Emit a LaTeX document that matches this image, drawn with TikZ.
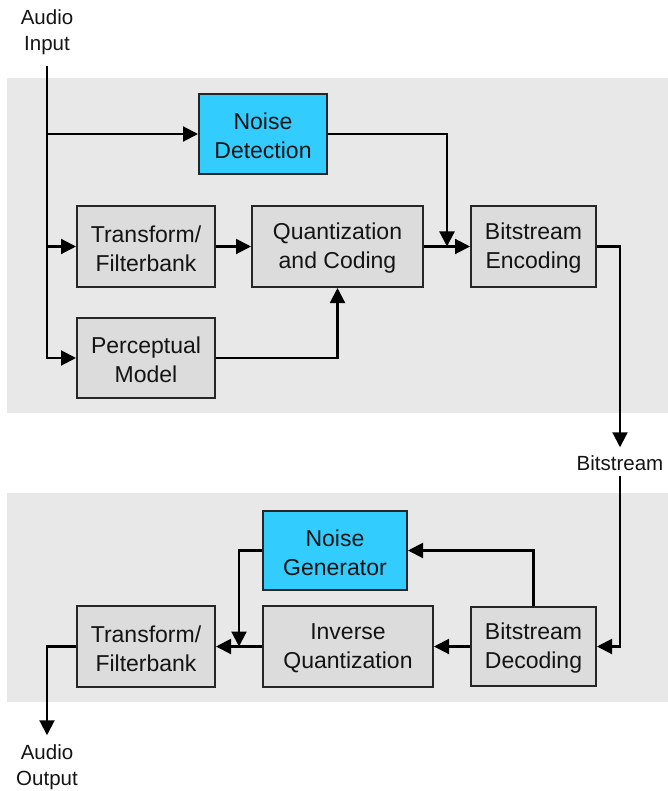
\documentclass[tikz,border=0pt]{standalone}
\usepackage{fontspec}
\setmainfont{Liberation Sans}
\usetikzlibrary{arrows.meta,calc}
\definecolor{panelgray}{HTML}{E8E8E8}
\definecolor{boxgray}{HTML}{DCDCDC}
\definecolor{noisecyan}{HTML}{33CCFF}
\definecolor{edgegray}{HTML}{262626}
\definecolor{inkgray}{HTML}{141414}
\tikzset{
  blocktext/.style={align=center, inner sep=0pt, text=inkgray,
    font=\fontsize{23}{29}\selectfont, yshift=-2pt},
  blockbox/.style={draw=edgegray, line width=2pt, fill=boxgray, rectangle,
    inner sep=0pt, label={[blocktext]center:#1}},
  noisebox/.style={blockbox=#1, fill=noisecyan},
  extlabel/.style={align=center, inner sep=1pt, text=inkgray,
    font=\fontsize{20.5}{26}\selectfont},
  wire/.style={line width=2.1pt, black},
  arr/.style={wire, -{Triangle[length=15pt,width=15pt]}},
}
\begin{document}
\begin{tikzpicture}[x=1pt,y=-1pt]
  \useasboundingbox (0,0) rectangle (668,791);
  % background panels: encoder and decoder
  \fill[panelgray] (7,78) rectangle (668,413);
  \fill[panelgray] (7,493) rectangle (668,702);

  % encoder blocks
  \node[noisebox={Noise\\Detection}, minimum width=128pt, minimum height=80pt] (nd) at (263,134) {};
  \node[blockbox={Transform/\\Filterbank}, minimum width=138pt, minimum height=81pt] (tf) at (146,246.5) {};
  \node[blockbox={Perceptual\\Model}, minimum width=138pt, minimum height=80pt] (pm) at (146,358) {};
  \node[blockbox={Quantization\\and Coding}, minimum width=171pt, minimum height=81pt] (qc) at (337.5,246.5) {};
  \node[blockbox={Bitstream\\Encoding}, minimum width=125pt, minimum height=81pt] (be) at (533.5,246.5) {};

  % decoder blocks
  \node[noisebox={Noise\\Generator}, minimum width=144pt, minimum height=79pt] (ng) at (335,550.5) {};
  \node[blockbox={Bitstream\\Decoding}, minimum width=125pt, minimum height=79pt] (bd) at (533.5,646.5) {};
  \node[blockbox={Inverse\\Quantization}, minimum width=170pt, minimum height=81pt] (iq) at (348,646.5) {};
  \node[blockbox={Transform/\\Filterbank}, minimum width=138pt, minimum height=81pt] (tfd) at (146,646.5) {};

  % external labels
  \node[extlabel] (ain) at (47,32) {Audio\\Input};
  \node[extlabel] (bs) at (620,463) {Bitstream};
  \node[extlabel] (aout) at (47,767) {Audio\\Output};

  % encoder connections
  \draw[arr] ([yshift=-10pt]ain.south) |- (pm.west);
  \draw[arr] (ain.south |- nd.west) -- (nd.west);
  \draw[arr] (ain.south |- tf.west) -- (tf.west);
  \draw[arr] (tf.east) -- (qc.west);
  \draw[arr] (pm.east) -| (qc.south);
  \draw[arr] (qc.east) -- (be.west);
  \coordinate (join) at ($(qc.east)!0.5!(be.west)$);
  \draw[arr] (nd.east) -| (join);
  \draw[arr, shorten >=7pt] (be.east) -| (bs.north);

  % decoder connections
  \draw[arr] ([yshift=-4pt]bs.south) |- (bd.east);
  \draw[arr] (bd.north) |- (ng.east);
  \draw[arr] (bd.west) -- (iq.east);
  \draw[arr] (iq.west) -- (tfd.east);
  \coordinate (merge) at ($(iq.west)!0.5!(tfd.east)$);
  \draw[arr] (ng.west) -| (merge);
  \draw[arr, shorten >=8pt] (tfd.west) -| (aout.north);
\end{tikzpicture}
\end{document}
